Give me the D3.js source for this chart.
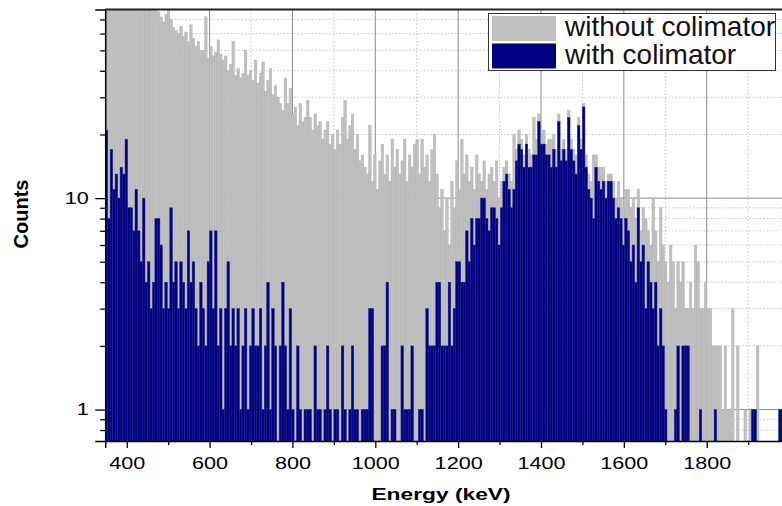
<!DOCTYPE html>
<html>
<head>
<meta charset="utf-8">
<script src="https://cdn.jsdelivr.net/npm/d3@7"></script>
<style>
  html, body { margin: 0; padding: 0; background: #fff; }
  svg { display: block; font-family: "Liberation Sans", Arial, sans-serif; }
</style>
</head>
<body>
<svg id="chart" width="782" height="506"></svg>
<script>
// Histogram binning (keV)
const binStartKeV = 348;
const binWidthKeV = 6;

// Counts per 6 keV bin, measurement without the collimator
const countsWithout = [
  132,118,125,110,121,104,115,99,108,96,112,94,101,90,98,88,95,86,92,84,89,
  76,72,68,74,82,70,64,62,60,65,
  58,61,55,66,57,52,55,50,50,72,
  46,52,47,49,56,48,45,47,40,43,
  55,38,41,37,39,50,38,40,36,45,
  35,39,44,32,36,41,31,34,30,28,
  26,37,28,33,25,27,22,28,23,24,
  29,24,21,25,22,23,19,21,23,18,
  20,17,21,18,24,29,19,22,25,17,
  20,15,16,14,13,22,12,16,11,15,
  18,13,16,12,19,14,17,13,15,19,
  12,16,14,18,19,13,19,14,16,12,
  17,20,13,9,11,7,10,6,12,9,
  15,11,19,13,16,12,14,11,16,13,
  12,15,11,13,14,12,15,10,12,14,
  15,13,12,20,17,21,19,16,20,17,
  16,24,19,25,20,21,18,19,19,20,
  17,25,17,19,17,26,19,17,16,24,
  19,28,16,13,12,16,16,14,14,14,
  12,13,13,12,10,12,10,9,11,11,
  9,10,8,11,7,9,8,7,6,10,
  7,5,9,6,5,4,6,5,3,5,
  4,5,3,3,4,3,6,5,3,3,
  4,3,3,2,2,2,2,1,2,1,
  1,3,0,2,0,0,1,0,1,1,
  1,2,0,0,0,0,0,0,0,0,
  1,1
];

// Counts per 6 keV bin, measurement with the collimator
const countsWith = [
  21,8,17,11,13,10,14,13,19,9,9,
  7,11,7,5,10,4,5,3,4,8,
  8,6,3,4,3,9,4,5,3,5,
  4,3,7,4,5,3,2,4,3,2,
  5,7,3,7,2,3,1,3,5,2,
  3,2,3,1,2,3,1,2,3,2,
  2,3,1,2,4,1,3,2,0,2,
  4,2,1,3,1,0,2,1,0,1,
  1,1,0,2,1,1,0,1,2,1,
  0,1,1,0,2,1,0,1,2,1,
  1,0,1,1,1,3,3,0,0,0,
  2,2,4,0,1,1,0,0,2,1,
  1,1,2,0,0,1,1,0,3,2,
  2,2,4,4,2,2,2,4,2,3,
  5,5,4,4,7,5,8,6,8,8,
  10,10,8,7,9,9,8,6,9,12,
  13,11,9,11,15,18,17,14,18,14,
  14,16,16,23,18,18,16,16,14,17,
  14,23,15,17,15,24,17,15,13,22,
  17,27,14,11,10,8,14,12,11,12,
  10,12,12,10,8,9,8,6,8,7,
  5,6,4,9,5,6,3,5,4,3,
  4,2,3,2,1,0,0,0,1,2,
  0,2,2,2,0,0,0,0,1,0,
  0,0,0,0,1,0,0,0,0,0,
  0,0,0,0,0,0,0,0,0,1,
  1,0,0,0,0,0,0,0,0,0,
  1,1
];

const seriesNames = ["without colimator", "with colimator"];
const seriesColors = ["#c0c0c0", "#000080"];

// Axis ticks
const xMajorTicks = [400, 600, 800, 1000, 1200, 1400, 1600, 1800];
const xMinorTicks = [500, 700, 900, 1100, 1300, 1500, 1700, 1900];
const yMajorTicks = [1, 10];
const yMinorTicks = [0.8, 0.9, 2, 3, 4, 5, 6, 7, 8, 9, 20, 30, 40, 50, 60, 70];

const svg = d3.select("#chart");
const plot = { left: 105.2, right: 785.4, top: 9.5, bottom: 441 };

const x = d3.scaleLinear().domain([348, 1990]).range([plot.left, plot.right]);
const y = d3.scaleLog().domain([0.71, 78]).range([plot.bottom, plot.top]);

svg.append("defs").append("clipPath").attr("id", "plotClip")
  .append("rect")
  .attr("x", plot.left).attr("y", plot.top)
  .attr("width", plot.right - plot.left).attr("height", plot.bottom - plot.top);

// Grid lines: dotted minor, solid major
const grid = svg.append("g").attr("clip-path", "url(#plotClip)");
grid.selectAll("line.vmin").data(xMinorTicks).join("line")
  .attr("x1", d => x(d)).attr("x2", d => x(d))
  .attr("y1", plot.top).attr("y2", plot.bottom)
  .attr("stroke", "#c4c4c4").attr("stroke-width", 1).attr("stroke-dasharray", "1.5,2");
grid.selectAll("line.hmin").data(yMinorTicks).join("line")
  .attr("x1", plot.left).attr("x2", plot.right)
  .attr("y1", d => y(d)).attr("y2", d => y(d))
  .attr("stroke", "#c4c4c4").attr("stroke-width", 1).attr("stroke-dasharray", "1.5,2");
grid.selectAll("line.vmaj").data(xMajorTicks).join("line")
  .attr("x1", d => x(d)).attr("x2", d => x(d))
  .attr("y1", plot.top).attr("y2", plot.bottom)
  .attr("stroke", "#8a8a8a").attr("stroke-width", 1);
grid.selectAll("line.hmaj").data(yMajorTicks).join("line")
  .attr("x1", plot.left).attr("x2", plot.right)
  .attr("y1", d => y(d)).attr("y2", d => y(d))
  .attr("stroke", "#8a8a8a").attr("stroke-width", 1);

// Histogram bars
const bars = svg.append("g").attr("clip-path", "url(#plotClip)");
function drawSeries(counts, fill, stroke) {
  const bins = counts.map((c, i) => ({ e0: binStartKeV + i * binWidthKeV, c }))
    .filter(d => d.c > 0);
  bars.append("g").selectAll("rect").data(bins).join("rect")
    .attr("x", d => x(d.e0))
    .attr("width", d => x(d.e0 + binWidthKeV) - x(d.e0))
    .attr("y", d => y(Math.min(d.c, 200)))
    .attr("height", d => plot.bottom - y(Math.min(d.c, 200)))
    .attr("fill", fill)
    .attr("stroke", stroke)
    .attr("stroke-width", 0.5);
}
drawSeries(countsWithout, seriesColors[0], "#b2b2b2");
drawSeries(countsWith, seriesColors[1], "#1c1c8c");

// Axes
const tickFont = 16, tickStretch = 1.35;
const xAxis = svg.append("g").attr("transform", `translate(0,${plot.bottom})`)
  .call(d3.axisBottom(x).tickValues(xMajorTicks).tickSize(7).tickPadding(10).tickFormat(d3.format("d")));
svg.append("g").attr("transform", `translate(0,${plot.bottom})`)
  .call(d3.axisBottom(x).tickValues(xMinorTicks).tickSize(4).tickFormat(""))
  .call(g => g.select(".domain").remove());
xAxis.selectAll("text")
  .attr("font-size", tickFont).attr("fill", "#000")
  .attr("font-family", "Liberation Sans, Arial, sans-serif")
  .attr("transform", `scale(${tickStretch},1)`);

const yAxis = svg.append("g").attr("transform", `translate(${plot.left},0)`)
  .call(d3.axisLeft(y).tickValues(yMajorTicks).tickSize(10).tickPadding(0).tickFormat(d3.format("d")));
svg.append("g").attr("transform", `translate(${plot.left},0)`)
  .call(d3.axisLeft(y).tickValues(yMinorTicks).tickSize(5).tickFormat(""))
  .call(g => g.select(".domain").remove());
yAxis.selectAll("text")
  .attr("font-size", tickFont).attr("fill", "#000")
  .attr("font-family", "Liberation Sans, Arial, sans-serif")
  .attr("x", -16.5 / tickStretch)
  .attr("transform", `scale(${tickStretch},1)`);

svg.selectAll(".domain").attr("stroke", "#000").attr("stroke-width", 1.5);
svg.selectAll(".tick line").attr("stroke", "#000").attr("stroke-width", 1.3);

// Top frame line
svg.append("line")
  .attr("x1", plot.left).attr("x2", 782).attr("y1", plot.top).attr("y2", plot.top)
  .attr("stroke", "#222").attr("stroke-width", 2);

// Axis titles
svg.append("text")
  .attr("transform", `translate(441,500) scale(1.38,1)`)
  .attr("text-anchor", "middle").attr("font-weight", "bold").attr("font-size", 16.5)
  .text("Energy (keV)");
svg.append("text")
  .attr("transform", "translate(28,214) rotate(-90)")
  .attr("text-anchor", "middle").attr("font-weight", "bold").attr("font-size", 20)
  .text("Counts");

// Legend
const legend = svg.append("g");
legend.append("rect")
  .attr("x", 488.5).attr("y", 13.5).attr("width", 287).attr("height", 57)
  .attr("fill", "#fff").attr("stroke", "#333").attr("stroke-width", 1);
seriesNames.forEach((name, k) => {
  legend.append("rect")
    .attr("x", 492).attr("y", 16 + k * 27.5).attr("width", 64).attr("height", 25)
    .attr("fill", seriesColors[k]);
  legend.append("text")
    .attr("x", 565).attr("y", 36 + k * 28)
    .attr("font-size", 28).attr("fill", "#111")
    .text(name);
});
</script>
</body>
</html>
